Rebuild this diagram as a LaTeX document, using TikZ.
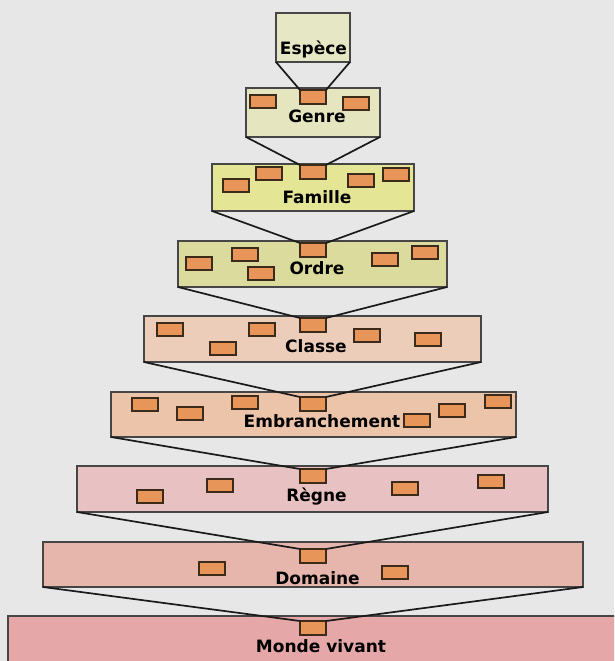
\documentclass[tikz,border=0pt]{standalone}
\usepackage{fontspec}
\setmainfont{DejaVu Sans}
\definecolor{bg}{HTML}{E6E7E6}
\definecolor{edgegray}{HTML}{464646}
\definecolor{linecol}{HTML}{1A1A1A}
\definecolor{sboxfill}{HTML}{E8955A}
\definecolor{sboxedge}{HTML}{3C2A1A}
\definecolor{cEspece}{HTML}{E6E7C4}
\definecolor{cGenre}{HTML}{E5E5C0}
\definecolor{cFamille}{HTML}{E5E596}
\definecolor{cOrdre}{HTML}{DADB9C}
\definecolor{cClasse}{HTML}{ECCDB9}
\definecolor{cEmbr}{HTML}{ECC4AA}
\definecolor{cRegne}{HTML}{E8C2C3}
\definecolor{cDomaine}{HTML}{E6B6AD}
\definecolor{cMonde}{HTML}{E6A7A8}
\begin{document}
\begin{tikzpicture}[x=1pt,y=-1pt,
  mainbox/.style={draw=edgegray, line width=1.5pt, rectangle, inner sep=0pt, outer sep=0pt},
  sbox/.style={draw=sboxedge, fill=sboxfill, line width=1.1pt, rectangle, minimum width=26pt, minimum height=13pt, inner sep=0pt, outer sep=0pt},
  cbox/.style={sbox, minimum height=14pt},
  lbl/.style={anchor=base, inner sep=0pt, outer sep=0pt, font=\fontsize{17}{20}\selectfont\bfseries},
  conn/.style={draw=linecol, line width=1.7pt}]
\fill[bg] (0,0) rectangle (614,661);
\useasboundingbox (0,0) rectangle (614,661);
\clip (0,0) rectangle (614,661);

% main boxes
\node[mainbox, fill=cEspece, minimum width=74pt, minimum height=49pt] (espece) at (313,37.5) {};
\node[mainbox, fill=cGenre, minimum width=134pt, minimum height=49pt] (genre) at (313,112.5) {};
\node[mainbox, fill=cFamille, minimum width=202pt, minimum height=47pt] (famille) at (313,187.5) {};
\node[mainbox, fill=cOrdre, minimum width=269pt, minimum height=46pt] (ordre) at (312.5,264) {};
\node[mainbox, fill=cClasse, minimum width=337pt, minimum height=46pt] (classe) at (312.5,339) {};
\node[mainbox, fill=cEmbr, minimum width=405pt, minimum height=45pt] (embr) at (313.5,414.5) {};
\node[mainbox, fill=cRegne, minimum width=471pt, minimum height=46pt] (regne) at (312.5,489) {};
\node[mainbox, fill=cDomaine, minimum width=540pt, minimum height=45pt] (domaine) at (313,564.5) {};
\node[mainbox, fill=cMonde, minimum width=610pt, minimum height=64pt] (monde) at (313,648) {};

% labels
\node[lbl] (tEspece) at (313.5,55) {Espèce};
\node[lbl] (tGenre) at (317,122) {Genre};
\node[lbl] (tFamille) at (317,203) {Famille};
\node[lbl] (tOrdre) at (317,274) {Ordre};
\node[lbl] (tClasse) at (316,352) {Classe};
\node[lbl] (tEmbr) at (322,427) {Embranchement};
\node[lbl] (tRegne) at (316.5,501) {Règne};
\node[lbl] (tDomaine) at (317.5,584) {Domaine};
\node[lbl] (tMonde) at (321,652) {Monde vivant};

% centre boxes
\node[cbox] (cGe) at (313,97) {};
\node[cbox] (cFa) at (313,172) {};
\node[cbox] (cOr) at (313,250) {};
\node[cbox] (cCl) at (313,325) {};
\node[cbox] (cEm) at (313,404) {};
\node[cbox] (cRe) at (313,476) {};
\node[cbox] (cDo) at (313,556) {};
\node[cbox] (cMo) at (313,628) {};

% other small boxes
\node[sbox] (ge1) at (263,101.5) {};
\node[sbox] (ge2) at (356,103.5) {};
\node[sbox] (fa1) at (236,185.5) {};
\node[sbox] (fa2) at (269,173.5) {};
\node[sbox] (fa3) at (361,180.5) {};
\node[sbox] (fa4) at (396,174.5) {};
\node[sbox] (or1) at (199,263.5) {};
\node[sbox] (or2) at (245,254.5) {};
\node[sbox] (or3) at (261,273.5) {};
\node[sbox] (or4) at (385,259.5) {};
\node[sbox] (or5) at (425,252.5) {};
\node[sbox] (cl1) at (170,329.5) {};
\node[sbox] (cl2) at (223,348.5) {};
\node[sbox] (cl3) at (262,329.5) {};
\node[sbox] (cl4) at (367,335.5) {};
\node[sbox] (cl5) at (428,339.5) {};
\node[sbox] (em1) at (145,404.5) {};
\node[sbox] (em2) at (190,413.5) {};
\node[sbox] (em3) at (245,402.5) {};
\node[sbox] (em4) at (417,420.5) {};
\node[sbox] (em5) at (452,410.5) {};
\node[sbox] (em6) at (498,401.5) {};
\node[sbox] (re1) at (150,496.5) {};
\node[sbox] (re2) at (220,485.5) {};
\node[sbox] (re3) at (405,488.5) {};
\node[sbox] (re4) at (491,481.5) {};
\node[sbox] (do1) at (212,568.5) {};
\node[sbox] (do2) at (395,572.5) {};

% connectors
\draw[conn] (espece.south west) -- (cGe.north west);
\draw[conn] (espece.south east) -- (cGe.north east);
\draw[conn] (genre.south west) -- (cFa.north west);
\draw[conn] (genre.south east) -- (cFa.north east);
\draw[conn] (famille.south west) -- (cOr.north west);
\draw[conn] (famille.south east) -- (cOr.north east);
\draw[conn] (ordre.south west) -- (cCl.north west);
\draw[conn] (ordre.south east) -- (cCl.north east);
\draw[conn] (classe.south west) -- (cEm.north west);
\draw[conn] (classe.south east) -- (cEm.north east);
\draw[conn] (embr.south west) -- (cRe.north west);
\draw[conn] (embr.south east) -- (cRe.north east);
\draw[conn] (regne.south west) -- (cDo.north west);
\draw[conn] (regne.south east) -- (cDo.north east);
\draw[conn] (domaine.south west) -- (cMo.north west);
\draw[conn] (domaine.south east) -- (cMo.north east);
\end{tikzpicture}
\end{document}
